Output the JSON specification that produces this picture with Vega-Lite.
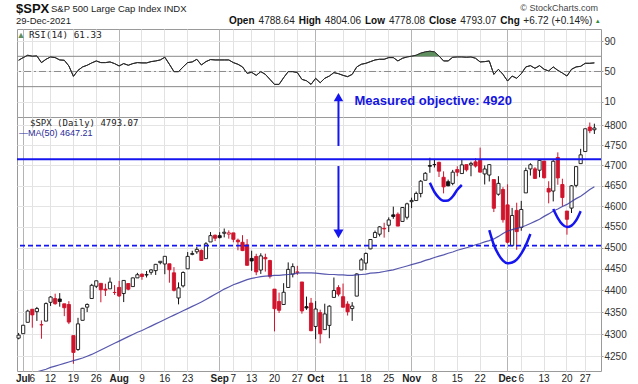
{
"$schema": "https://vega.github.io/schema/vega-lite/v6.json",
"padding": {"left": 14, "top": 2, "right": 5, "bottom": 5},
"background": "white",
"config": {"view": {"stroke": "#9a9a9a", "strokeWidth": 1}, "axis": {"labelFont": "Liberation Sans", "labelColor": "#333", "labelFontSize": 10}, "text": {"font": "Liberation Sans"}},
"datasets": {
"px": [
{"d":"2021-06-30","o":4290.65,"h":4302.43,"l":4287.96,"c":4297.50,"chg":5.70,"ma":4203,"rsi":64.8},
{"d":"2021-07-01","o":4300.73,"h":4320.66,"l":4300.73,"c":4319.94,"chg":22.44,"ma":4206,"rsi":68.3},
{"d":"2021-07-02","o":4326.60,"h":4355.43,"l":4326.60,"c":4352.34,"chg":32.40,"ma":4209,"rsi":71.4},
{"d":"2021-07-06","o":4356.46,"h":4356.46,"l":4314.37,"c":4343.54,"chg":-8.80,"ma":4212,"rsi":70.1},
{"d":"2021-07-07","o":4351.01,"h":4361.88,"l":4329.79,"c":4358.13,"chg":14.59,"ma":4215,"rsi":70.5},
{"d":"2021-07-08","o":4321.07,"h":4330.88,"l":4289.37,"c":4320.82,"chg":-37.31,"ma":4218,"rsi":61.7},
{"d":"2021-07-09","o":4329.38,"h":4372.21,"l":4329.38,"c":4369.55,"chg":48.73,"ma":4221,"rsi":66.1},
{"d":"2021-07-12","o":4372.41,"h":4386.68,"l":4364.03,"c":4384.63,"chg":15.08,"ma":4225,"rsi":69.2},
{"d":"2021-07-13","o":4381.07,"h":4392.37,"l":4366.92,"c":4369.21,"chg":-15.42,"ma":4228,"rsi":68.3},
{"d":"2021-07-14","o":4380.11,"h":4393.68,"l":4362.36,"c":4374.30,"chg":5.09,"ma":4231,"rsi":65.2},
{"d":"2021-07-15","o":4369.02,"h":4369.02,"l":4340.70,"c":4360.03,"chg":-14.27,"ma":4234,"rsi":64.8},
{"d":"2021-07-16","o":4367.43,"h":4375.09,"l":4322.53,"c":4327.16,"chg":-32.87,"ma":4237,"rsi":57.3},
{"d":"2021-07-19","o":4296.40,"h":4296.40,"l":4233.13,"c":4258.49,"chg":-68.67,"ma":4240,"rsi":43.6},
{"d":"2021-07-20","o":4265.11,"h":4336.84,"l":4262.05,"c":4323.06,"chg":64.57,"ma":4243,"rsi":51.5},
{"d":"2021-07-21","o":4331.13,"h":4359.70,"l":4331.13,"c":4358.69,"chg":35.63,"ma":4246,"rsi":56.0},
{"d":"2021-07-22","o":4361.27,"h":4369.87,"l":4350.06,"c":4367.48,"chg":8.79,"ma":4250,"rsi":58.2},
{"d":"2021-07-23","o":4381.20,"h":4415.18,"l":4381.20,"c":4411.79,"chg":44.31,"ma":4254,"rsi":61.3},
{"d":"2021-07-26","o":4409.58,"h":4422.73,"l":4405.45,"c":4422.30,"chg":10.51,"ma":4259,"rsi":63.9},
{"d":"2021-07-27","o":4416.38,"h":4416.38,"l":4372.51,"c":4401.46,"chg":-20.84,"ma":4264,"rsi":61.7},
{"d":"2021-07-28","o":4402.95,"h":4415.47,"l":4387.01,"c":4400.64,"chg":-0.82,"ma":4269,"rsi":61.7},
{"d":"2021-07-29","o":4403.59,"h":4429.97,"l":4403.59,"c":4419.15,"chg":18.51,"ma":4274,"rsi":62.6},
{"d":"2021-07-30","o":4395.12,"h":4412.25,"l":4389.65,"c":4395.26,"chg":-23.89,"ma":4279,"rsi":60.4},
{"d":"2021-08-02","o":4406.86,"h":4422.18,"l":4384.81,"c":4387.16,"chg":-8.10,"ma":4284,"rsi":57.3},
{"d":"2021-08-03","o":4392.74,"h":4423.79,"l":4373.00,"c":4423.15,"chg":35.99,"ma":4289,"rsi":60.4},
{"d":"2021-08-04","o":4415.95,"h":4416.17,"l":4400.23,"c":4402.66,"chg":-20.49,"ma":4294,"rsi":58.2},
{"d":"2021-08-05","o":4408.86,"h":4429.76,"l":4408.86,"c":4429.10,"chg":26.44,"ma":4299,"rsi":60.4},
{"d":"2021-08-06","o":4429.07,"h":4440.82,"l":4429.07,"c":4436.52,"chg":7.42,"ma":4304,"rsi":61.7},
{"d":"2021-08-09","o":4437.77,"h":4439.39,"l":4424.74,"c":4432.35,"chg":-4.17,"ma":4308,"rsi":61.3},
{"d":"2021-08-10","o":4435.79,"h":4445.21,"l":4430.03,"c":4436.75,"chg":4.40,"ma":4313,"rsi":61.3},
{"d":"2021-08-11","o":4442.18,"h":4449.44,"l":4436.42,"c":4447.70,"chg":10.95,"ma":4318,"rsi":63.0},
{"d":"2021-08-12","o":4446.08,"h":4461.77,"l":4435.96,"c":4460.83,"chg":13.13,"ma":4323,"rsi":63.9},
{"d":"2021-08-13","o":4464.84,"h":4468.37,"l":4460.82,"c":4468.00,"chg":7.17,"ma":4328,"rsi":65.2},
{"d":"2021-08-16","o":4461.65,"h":4480.26,"l":4437.66,"c":4479.71,"chg":11.71,"ma":4333,"rsi":68.8},
{"d":"2021-08-17","o":4462.12,"h":4462.12,"l":4417.83,"c":4448.08,"chg":-31.63,"ma":4338,"rsi":59.5},
{"d":"2021-08-18","o":4440.94,"h":4454.32,"l":4397.59,"c":4400.27,"chg":-47.81,"ma":4343,"rsi":49.8},
{"d":"2021-08-19","o":4382.44,"h":4418.61,"l":4367.73,"c":4405.80,"chg":5.53,"ma":4348,"rsi":49.8},
{"d":"2021-08-20","o":4410.56,"h":4444.35,"l":4406.80,"c":4441.67,"chg":35.87,"ma":4353,"rsi":56.0},
{"d":"2021-08-23","o":4450.29,"h":4489.88,"l":4450.29,"c":4479.53,"chg":37.86,"ma":4358,"rsi":61.7},
{"d":"2021-08-24","o":4484.40,"h":4492.81,"l":4482.28,"c":4486.23,"chg":6.70,"ma":4363,"rsi":62.6},
{"d":"2021-08-25","o":4490.45,"h":4501.71,"l":4485.66,"c":4496.19,"chg":9.96,"ma":4368,"rsi":66.1},
{"d":"2021-08-26","o":4493.75,"h":4495.90,"l":4468.99,"c":4470.00,"chg":-26.19,"ma":4373,"rsi":58.6},
{"d":"2021-08-27","o":4474.10,"h":4513.33,"l":4474.10,"c":4509.37,"chg":39.37,"ma":4379,"rsi":63.0},
{"d":"2021-08-30","o":4513.76,"h":4537.36,"l":4513.76,"c":4528.79,"chg":19.42,"ma":4385,"rsi":65.7},
{"d":"2021-08-31","o":4529.75,"h":4531.39,"l":4515.80,"c":4522.68,"chg":-6.11,"ma":4391,"rsi":65.2},
{"d":"2021-09-01","o":4528.80,"h":4537.11,"l":4522.02,"c":4524.09,"chg":1.41,"ma":4397,"rsi":65.2},
{"d":"2021-09-02","o":4534.48,"h":4545.85,"l":4524.66,"c":4536.95,"chg":12.86,"ma":4403,"rsi":65.2},
{"d":"2021-09-03","o":4532.42,"h":4541.45,"l":4521.65,"c":4535.43,"chg":-1.52,"ma":4408,"rsi":65.2},
{"d":"2021-09-07","o":4535.38,"h":4535.38,"l":4513.00,"c":4520.03,"chg":-15.40,"ma":4413,"rsi":61.7},
{"d":"2021-09-08","o":4518.09,"h":4521.79,"l":4493.95,"c":4514.07,"chg":-5.96,"ma":4417,"rsi":59.5},
{"d":"2021-09-09","o":4513.02,"h":4529.90,"l":4492.07,"c":4493.28,"chg":-20.79,"ma":4421,"rsi":56.0},
{"d":"2021-09-10","o":4506.92,"h":4520.47,"l":4457.66,"c":4458.58,"chg":-34.70,"ma":4425,"rsi":47.6},
{"d":"2021-09-13","o":4474.81,"h":4492.99,"l":4445.70,"c":4468.73,"chg":10.15,"ma":4428,"rsi":48.9},
{"d":"2021-09-14","o":4479.33,"h":4485.68,"l":4435.46,"c":4443.05,"chg":-25.68,"ma":4430,"rsi":44.9},
{"d":"2021-09-15","o":4447.49,"h":4486.87,"l":4438.37,"c":4480.70,"chg":37.65,"ma":4432,"rsi":49.8},
{"d":"2021-09-16","o":4477.09,"h":4485.87,"l":4443.80,"c":4473.75,"chg":-6.95,"ma":4433,"rsi":46.2},
{"d":"2021-09-17","o":4469.74,"h":4471.52,"l":4427.76,"c":4432.99,"chg":-40.76,"ma":4434,"rsi":39.6},
{"d":"2021-09-20","o":4402.95,"h":4402.95,"l":4305.91,"c":4357.73,"chg":-75.26,"ma":4435,"rsi":33.0},
{"d":"2021-09-21","o":4374.45,"h":4394.87,"l":4347.96,"c":4354.19,"chg":-3.54,"ma":4435,"rsi":33.0},
{"d":"2021-09-22","o":4367.43,"h":4416.75,"l":4367.43,"c":4395.64,"chg":41.45,"ma":4436,"rsi":41.8},
{"d":"2021-09-23","o":4406.75,"h":4465.40,"l":4406.75,"c":4448.98,"chg":53.34,"ma":4437,"rsi":49.8},
{"d":"2021-09-24","o":4438.04,"h":4463.12,"l":4430.27,"c":4455.48,"chg":6.50,"ma":4438,"rsi":49.8},
{"d":"2021-09-27","o":4442.12,"h":4457.30,"l":4436.19,"c":4443.11,"chg":-12.37,"ma":4440,"rsi":48.5},
{"d":"2021-09-28","o":4419.54,"h":4419.54,"l":4346.33,"c":4352.63,"chg":-90.48,"ma":4441,"rsi":39.6},
{"d":"2021-09-29","o":4362.41,"h":4385.57,"l":4355.08,"c":4359.46,"chg":6.83,"ma":4441,"rsi":37.8},
{"d":"2021-09-30","o":4370.67,"h":4382.55,"l":4306.24,"c":4307.54,"chg":-51.92,"ma":4441,"rsi":33.0},
{"d":"2021-10-01","o":4317.16,"h":4375.19,"l":4288.52,"c":4357.04,"chg":49.50,"ma":4440,"rsi":41.0},
{"d":"2021-10-04","o":4348.84,"h":4355.51,"l":4278.94,"c":4300.46,"chg":-56.58,"ma":4439,"rsi":35.2},
{"d":"2021-10-05","o":4309.87,"h":4369.23,"l":4309.87,"c":4345.72,"chg":45.26,"ma":4438,"rsi":41.0},
{"d":"2021-10-06","o":4319.57,"h":4365.57,"l":4290.49,"c":4363.55,"chg":17.83,"ma":4437,"rsi":44.0},
{"d":"2021-10-07","o":4383.73,"h":4429.97,"l":4383.73,"c":4399.76,"chg":36.21,"ma":4437,"rsi":48.5},
{"d":"2021-10-08","o":4406.51,"h":4412.02,"l":4386.22,"c":4391.34,"chg":-8.42,"ma":4436,"rsi":47.1},
{"d":"2021-10-11","o":4385.44,"h":4415.88,"l":4360.59,"c":4361.19,"chg":-30.15,"ma":4436,"rsi":44.9},
{"d":"2021-10-12","o":4368.31,"h":4374.89,"l":4342.09,"c":4350.65,"chg":-10.54,"ma":4435,"rsi":43.2},
{"d":"2021-10-13","o":4358.01,"h":4372.87,"l":4329.92,"c":4363.80,"chg":13.15,"ma":4435,"rsi":46.2},
{"d":"2021-10-14","o":4386.75,"h":4439.73,"l":4386.75,"c":4438.26,"chg":74.46,"ma":4436,"rsi":56.0},
{"d":"2021-10-15","o":4447.69,"h":4475.82,"l":4447.69,"c":4471.37,"chg":33.11,"ma":4437,"rsi":59.5},
{"d":"2021-10-18","o":4463.72,"h":4488.75,"l":4447.47,"c":4486.46,"chg":15.09,"ma":4438,"rsi":60.8},
{"d":"2021-10-19","o":4497.34,"h":4520.40,"l":4496.41,"c":4519.63,"chg":33.17,"ma":4440,"rsi":63.0},
{"d":"2021-10-20","o":4524.42,"h":4540.87,"l":4524.40,"c":4536.19,"chg":16.56,"ma":4441,"rsi":65.2},
{"d":"2021-10-21","o":4532.24,"h":4551.44,"l":4526.89,"c":4549.78,"chg":13.59,"ma":4442,"rsi":66.1},
{"d":"2021-10-22","o":4546.12,"h":4559.67,"l":4524.00,"c":4544.90,"chg":-4.88,"ma":4444,"rsi":66.1},
{"d":"2021-10-25","o":4553.69,"h":4572.62,"l":4537.36,"c":4566.48,"chg":21.58,"ma":4446,"rsi":68.3},
{"d":"2021-10-26","o":4578.69,"h":4598.53,"l":4569.17,"c":4574.79,"chg":8.31,"ma":4448,"rsi":68.3},
{"d":"2021-10-27","o":4580.22,"h":4584.57,"l":4551.66,"c":4551.68,"chg":-23.11,"ma":4451,"rsi":63.9},
{"d":"2021-10-28","o":4562.84,"h":4597.55,"l":4562.84,"c":4596.42,"chg":44.74,"ma":4454,"rsi":67.4},
{"d":"2021-10-29","o":4572.87,"h":4608.08,"l":4567.59,"c":4605.38,"chg":8.96,"ma":4457,"rsi":69.2},
{"d":"2021-11-01","o":4610.62,"h":4620.34,"l":4595.06,"c":4613.67,"chg":8.29,"ma":4460,"rsi":70.1},
{"d":"2021-11-02","o":4613.34,"h":4635.15,"l":4613.34,"c":4630.65,"chg":16.98,"ma":4463,"rsi":71.4},
{"d":"2021-11-03","o":4630.65,"h":4663.46,"l":4621.19,"c":4660.57,"chg":29.92,"ma":4466,"rsi":74.1},
{"d":"2021-11-04","o":4662.93,"h":4683.00,"l":4662.59,"c":4680.06,"chg":19.49,"ma":4470,"rsi":75.8},
{"d":"2021-11-05","o":4699.26,"h":4718.50,"l":4681.32,"c":4697.53,"chg":17.47,"ma":4473,"rsi":76.7},
{"d":"2021-11-08","o":4701.48,"h":4714.92,"l":4694.39,"c":4701.70,"chg":4.17,"ma":4477,"rsi":75.8},
{"d":"2021-11-09","o":4707.25,"h":4708.53,"l":4670.87,"c":4685.25,"chg":-16.45,"ma":4480,"rsi":70.5},
{"d":"2021-11-10","o":4670.26,"h":4684.85,"l":4630.86,"c":4646.71,"chg":-38.54,"ma":4483,"rsi":63.9},
{"d":"2021-11-11","o":4659.39,"h":4664.55,"l":4648.31,"c":4649.27,"chg":2.56,"ma":4487,"rsi":63.9},
{"d":"2021-11-12","o":4655.24,"h":4688.47,"l":4650.77,"c":4682.85,"chg":33.58,"ma":4490,"rsi":68.8},
{"d":"2021-11-15","o":4689.30,"h":4697.42,"l":4672.86,"c":4682.80,"chg":-0.05,"ma":4494,"rsi":69.2},
{"d":"2021-11-16","o":4679.42,"h":4714.95,"l":4679.42,"c":4700.90,"chg":18.10,"ma":4497,"rsi":69.2},
{"d":"2021-11-17","o":4701.50,"h":4701.50,"l":4684.41,"c":4688.67,"chg":-12.23,"ma":4500,"rsi":68.8},
{"d":"2021-11-18","o":4700.72,"h":4708.80,"l":4672.78,"c":4704.54,"chg":15.87,"ma":4503,"rsi":69.2},
{"d":"2021-11-19","o":4708.44,"h":4717.75,"l":4694.22,"c":4697.96,"chg":-6.58,"ma":4507,"rsi":67.4},
{"d":"2021-11-22","o":4712.00,"h":4743.83,"l":4682.17,"c":4682.94,"chg":-15.02,"ma":4510,"rsi":62.6},
{"d":"2021-11-23","o":4678.48,"h":4699.39,"l":4652.66,"c":4690.70,"chg":7.76,"ma":4514,"rsi":63.0},
{"d":"2021-11-24","o":4675.78,"h":4702.87,"l":4659.89,"c":4701.46,"chg":10.76,"ma":4517,"rsi":63.9},
{"d":"2021-11-26","o":4664.63,"h":4664.63,"l":4585.43,"c":4594.62,"chg":-106.84,"ma":4521,"rsi":46.2},
{"d":"2021-11-29","o":4628.75,"h":4672.95,"l":4625.26,"c":4655.27,"chg":60.65,"ma":4527,"rsi":52.9},
{"d":"2021-11-30","o":4640.25,"h":4646.02,"l":4560.00,"c":4567.00,"chg":-88.27,"ma":4534,"rsi":46.2},
{"d":"2021-12-01","o":4602.82,"h":4652.94,"l":4510.27,"c":4513.04,"chg":-53.96,"ma":4540,"rsi":37.4},
{"d":"2021-12-02","o":4504.73,"h":4595.46,"l":4504.73,"c":4577.10,"chg":64.06,"ma":4543,"rsi":44.0},
{"d":"2021-12-03","o":4589.49,"h":4608.03,"l":4495.12,"c":4538.43,"chg":-38.67,"ma":4546,"rsi":41.0},
{"d":"2021-12-06","o":4548.37,"h":4612.60,"l":4540.51,"c":4591.67,"chg":53.24,"ma":4549,"rsi":47.1},
{"d":"2021-12-07","o":4631.97,"h":4694.04,"l":4631.97,"c":4686.75,"chg":95.08,"ma":4553,"rsi":56.0},
{"d":"2021-12-08","o":4690.86,"h":4705.06,"l":4674.52,"c":4701.21,"chg":14.46,"ma":4558,"rsi":57.7},
{"d":"2021-12-09","o":4691.00,"h":4695.26,"l":4665.98,"c":4667.45,"chg":-33.76,"ma":4563,"rsi":54.2},
{"d":"2021-12-10","o":4687.64,"h":4713.57,"l":4670.24,"c":4712.02,"chg":44.57,"ma":4568,"rsi":57.7},
{"d":"2021-12-13","o":4710.30,"h":4710.30,"l":4667.60,"c":4668.97,"chg":-43.05,"ma":4575,"rsi":52.9},
{"d":"2021-12-14","o":4642.99,"h":4660.47,"l":4606.52,"c":4634.09,"chg":-34.88,"ma":4581,"rsi":50.7},
{"d":"2021-12-15","o":4636.46,"h":4712.60,"l":4611.22,"c":4709.85,"chg":75.76,"ma":4588,"rsi":56.0},
{"d":"2021-12-16","o":4719.13,"h":4731.99,"l":4651.89,"c":4668.67,"chg":-41.18,"ma":4593,"rsi":51.5},
{"d":"2021-12-17","o":4652.50,"h":4666.70,"l":4600.22,"c":4620.64,"chg":-48.03,"ma":4599,"rsi":48.0},
{"d":"2021-12-20","o":4587.90,"h":4587.90,"l":4531.10,"c":4568.02,"chg":-52.62,"ma":4604,"rsi":44.0},
{"d":"2021-12-21","o":4594.96,"h":4651.14,"l":4583.16,"c":4649.23,"chg":81.21,"ma":4611,"rsi":52.9},
{"d":"2021-12-22","o":4650.36,"h":4697.67,"l":4645.53,"c":4696.56,"chg":47.33,"ma":4618,"rsi":56.0},
{"d":"2021-12-23","o":4703.96,"h":4740.74,"l":4703.96,"c":4725.79,"chg":29.23,"ma":4624,"rsi":56.8},
{"d":"2021-12-27","o":4733.99,"h":4791.49,"l":4733.99,"c":4791.19,"chg":65.40,"ma":4632,"rsi":60.8},
{"d":"2021-12-28","o":4795.49,"h":4807.02,"l":4780.04,"c":4786.35,"chg":-4.84,"ma":4640,"rsi":60.8},
{"d":"2021-12-29","o":4788.64,"h":4804.06,"l":4778.08,"c":4793.07,"chg":6.72,"ma":4647.21,"rsi":61.33}
],
"arcs": [
{"g":1,"d":"2021-11-05","p":4656.7},{"g":1,"d":"2021-11-08","p":4634.2},{"g":1,"d":"2021-11-09","p":4619.8},{"g":1,"d":"2021-11-10","p":4612.7},{"g":1,"d":"2021-11-11","p":4613.7},{"g":1,"d":"2021-11-12","p":4623.2},{"g":1,"d":"2021-11-15","p":4639.6},{"g":1,"d":"2021-11-16","p":4651.3},
{"g":2,"d":"2021-11-24","p":4542.2},{"g":2,"d":"2021-11-26","p":4507.1},{"g":2,"d":"2021-11-29","p":4484.1},{"g":2,"d":"2021-11-30","p":4469.7},{"g":2,"d":"2021-12-01","p":4463.3},{"g":2,"d":"2021-12-02","p":4465.2},{"g":2,"d":"2021-12-03","p":4472.1},{"g":2,"d":"2021-12-06","p":4486.0},{"g":2,"d":"2021-12-07","p":4506.2},{"g":2,"d":"2021-12-08","p":4532.7},
{"g":3,"d":"2021-12-15","p":4592.8},{"g":3,"d":"2021-12-16","p":4571.0},{"g":3,"d":"2021-12-17","p":4555.6},{"g":3,"d":"2021-12-20","p":4549.4},{"g":3,"d":"2021-12-21","p":4552.8},{"g":3,"d":"2021-12-22","p":4565.3},{"g":3,"d":"2021-12-23","p":4587.7}
]
},
"spacing": 0,
"bounds": "flush",
"resolve": {"scale": {"x": "shared", "y": "independent"}, "axis": {"x": "independent", "y": "independent"}},
"vconcat": [
{
"width": 584, "height": 88,
"data": {"name": "px"},
"layer": [
{"mark": {"type": "line", "color": "#2a2a2a", "strokeWidth": 1},
 "encoding": {
  "x": {"field": "d", "type": "ordinal", "scale": {"type": "band", "paddingInner": 0.3, "paddingOuter": 0.55, "align": 0, "round": false},
   "axis": {"values": ["2021-07-01","2021-07-06","2021-07-12","2021-07-19","2021-07-26","2021-08-02","2021-08-09","2021-08-16","2021-08-23","2021-09-01","2021-09-07","2021-09-13","2021-09-20","2021-09-27","2021-10-01","2021-10-11","2021-10-18","2021-10-25","2021-11-01","2021-11-08","2021-11-15","2021-11-22","2021-12-01","2021-12-06","2021-12-13","2021-12-20","2021-12-27"],
    "labels": false, "ticks": false, "domain": false, "title": null, "grid": true, "bandPosition": 0.5,
    "gridColor": {"condition": {"test": "datum.value == '2021-07-01' || datum.value == '2021-08-02' || datum.value == '2021-09-01' || datum.value == '2021-10-01' || datum.value == '2021-11-01' || datum.value == '2021-12-01'", "value": "#b4b4b4"}, "value": "#e2e2e2"}}},
  "y": {"field": "rsi", "type": "quantitative", "scale": {"domain": [-10, 106], "nice": false, "zero": false},
   "axis": {"orient": "right", "values": [10, 30, 50, 70, 90], "grid": true, "gridColor": "#e4e4e4", "tickSize": 2, "tickColor": "#999", "labelPadding": 1, "domain": false, "title": null}}
 }},
{"data": {"values": [{"v": 70}, {"v": 30}]}, "mark": {"type": "rule", "color": "#8a8a8a", "strokeWidth": 1}, "encoding": {"y": {"field": "v", "type": "quantitative"}}},
{"data": {"values": [{"v": 50}]}, "mark": {"type": "rule", "color": "#8a8a8a", "strokeWidth": 1, "strokeDash": [7, 3, 2, 3]}, "encoding": {"y": {"field": "v", "type": "quantitative"}}},
{"transform": [{"filter": "datum.rsi >= 70 && datum.d >= '2021-11'"}], "mark": {"type": "area", "color": "#5f8f5f", "opacity": 1},
 "encoding": {"x": {"field": "d", "type": "ordinal"}, "y": {"field": "rsi", "type": "quantitative"}, "y2": {"datum": 70}}},
{"mark": {"type": "line", "color": "#2a2a2a", "strokeWidth": 1},
 "encoding": {"x": {"field": "d", "type": "ordinal"}, "y": {"field": "rsi", "type": "quantitative"}}},
{"data": {"values": [{}]}, "mark": {"type": "text", "text": "$SPX", "align": "left", "baseline": "alphabetic", "fontSize": 13, "fontWeight": "bold", "color": "#111", "dx": -2.6},
 "encoding": {"x": {"datum": "2021-06-30", "type": "ordinal"}, "y": {"datum": 127.1}}},
{"data": {"values": [{}]}, "mark": {"type": "text", "text": "S&P 500 Large Cap Index  INDX", "align": "left", "baseline": "alphabetic", "fontSize": 9.5, "color": "#222", "dx": 32.4},
 "encoding": {"x": {"datum": "2021-06-30", "type": "ordinal"}, "y": {"datum": 128.4}}},
{"data": {"values": [{}]}, "mark": {"type": "text", "text": "© StockCharts.com", "align": "right", "baseline": "alphabetic", "fontSize": 9, "color": "#444", "dx": 3.6},
 "encoding": {"x": {"datum": "2021-12-29", "type": "ordinal"}, "y": {"datum": 129.7}}},
{"data": {"values": [{}]}, "mark": {"type": "text", "text": "29-Dec-2021", "align": "left", "baseline": "middle", "fontSize": 9.5, "color": "#222", "dx": -2.6},
 "encoding": {"x": {"datum": "2021-06-30", "type": "ordinal"}, "y": {"datum": 115.9}}},
{"data": {"values": [{}]}, "mark": {"type": "text", "text": "Open", "align": "left", "baseline": "middle", "fontSize": 10, "fontWeight": "bold", "color": "#111", "dx": -365.4},
 "encoding": {"x": {"datum": "2021-12-29", "type": "ordinal"}, "y": {"datum": 115.9}}},
{"data": {"values": [{}]}, "mark": {"type": "text", "text": "4788.64", "align": "left", "baseline": "middle", "fontSize": 10, "color": "#222", "dx": -335.8},
 "encoding": {"x": {"datum": "2021-12-29", "type": "ordinal"}, "y": {"datum": 115.9}}},
{"data": {"values": [{}]}, "mark": {"type": "text", "text": "High", "align": "left", "baseline": "middle", "fontSize": 10, "fontWeight": "bold", "color": "#111", "dx": -295.7},
 "encoding": {"x": {"datum": "2021-12-29", "type": "ordinal"}, "y": {"datum": 115.9}}},
{"data": {"values": [{}]}, "mark": {"type": "text", "text": "4804.06", "align": "left", "baseline": "middle", "fontSize": 10, "color": "#222", "dx": -269.5},
 "encoding": {"x": {"datum": "2021-12-29", "type": "ordinal"}, "y": {"datum": 115.9}}},
{"data": {"values": [{}]}, "mark": {"type": "text", "text": "Low", "align": "left", "baseline": "middle", "fontSize": 10, "fontWeight": "bold", "color": "#111", "dx": -229.4},
 "encoding": {"x": {"datum": "2021-12-29", "type": "ordinal"}, "y": {"datum": 115.9}}},
{"data": {"values": [{}]}, "mark": {"type": "text", "text": "4778.08", "align": "left", "baseline": "middle", "fontSize": 10, "color": "#222", "dx": -205.4},
 "encoding": {"x": {"datum": "2021-12-29", "type": "ordinal"}, "y": {"datum": 115.9}}},
{"data": {"values": [{}]}, "mark": {"type": "text", "text": "Close", "align": "left", "baseline": "middle", "fontSize": 10, "fontWeight": "bold", "color": "#111", "dx": -165.3},
 "encoding": {"x": {"datum": "2021-12-29", "type": "ordinal"}, "y": {"datum": 115.9}}},
{"data": {"values": [{}]}, "mark": {"type": "text", "text": "4793.07", "align": "left", "baseline": "middle", "fontSize": 10, "color": "#222", "dx": -134.1},
 "encoding": {"x": {"datum": "2021-12-29", "type": "ordinal"}, "y": {"datum": 115.9}}},
{"data": {"values": [{}]}, "mark": {"type": "text", "text": "Chg", "align": "left", "baseline": "middle", "fontSize": 10, "fontWeight": "bold", "color": "#111", "dx": -94},
 "encoding": {"x": {"datum": "2021-12-29", "type": "ordinal"}, "y": {"datum": 115.9}}},
{"data": {"values": [{}]}, "mark": {"type": "text", "text": "+6.72 (+0.14%)", "align": "left", "baseline": "middle", "fontSize": 10, "color": "#222", "dx": -71},
 "encoding": {"x": {"datum": "2021-12-29", "type": "ordinal"}, "y": {"datum": 115.9}}},
{"data": {"values": [{}]}, "mark": {"type": "text", "text": "▲", "align": "left", "baseline": "middle", "fontSize": 6, "color": "#2e8b3e", "dx": 0.5},
 "encoding": {"x": {"datum": "2021-12-29", "type": "ordinal"}, "y": {"datum": 115.9}}},
{"data": {"values": [{}]}, "mark": {"type": "text", "text": "▲", "align": "center", "baseline": "middle", "fontSize": 9, "color": "#5f8f5f", "dx": 2.4},
 "encoding": {"x": {"datum": "2021-06-30", "type": "ordinal"}, "y": {"datum": 98.1}}},
{"data": {"values": [{}]}, "mark": {"type": "text", "text": "RSI(14) 61.33", "align": "left", "baseline": "middle", "font": "DejaVu Sans Mono", "fontSize": 9.3, "color": "#222", "dx": 10.4},
 "encoding": {"x": {"datum": "2021-06-30", "type": "ordinal"}, "y": {"datum": 98.1}}}
]
},
{
"width": 584, "height": 254,
"data": {"name": "px"},
"layer": [
{"mark": {"type": "rule", "strokeWidth": 1},
 "encoding": {
  "x": {"field": "d", "type": "ordinal",
   "axis": {"values": ["2021-07-01","2021-07-06","2021-07-12","2021-07-19","2021-07-26","2021-08-02","2021-08-09","2021-08-16","2021-08-23","2021-09-01","2021-09-07","2021-09-13","2021-09-20","2021-09-27","2021-10-01","2021-10-11","2021-10-18","2021-10-25","2021-11-01","2021-11-08","2021-11-15","2021-11-22","2021-12-01","2021-12-06","2021-12-13","2021-12-20","2021-12-27"],
    "labelExpr": "datum.value == '2021-07-01' ? 'Jul' : datum.value == '2021-07-06' ? '6' : datum.value == '2021-07-12' ? '12' : datum.value == '2021-07-19' ? '19' : datum.value == '2021-07-26' ? '26' : datum.value == '2021-08-02' ? 'Aug' : datum.value == '2021-08-09' ? '9' : datum.value == '2021-08-16' ? '16' : datum.value == '2021-08-23' ? '23' : datum.value == '2021-09-01' ? 'Sep' : datum.value == '2021-09-07' ? '7' : datum.value == '2021-09-13' ? '13' : datum.value == '2021-09-20' ? '20' : datum.value == '2021-09-27' ? '27' : datum.value == '2021-10-01' ? 'Oct' : datum.value == '2021-10-11' ? '11' : datum.value == '2021-10-18' ? '18' : datum.value == '2021-10-25' ? '25' : datum.value == '2021-11-01' ? 'Nov' : datum.value == '2021-11-08' ? '8' : datum.value == '2021-11-15' ? '15' : datum.value == '2021-11-22' ? '22' : datum.value == '2021-12-01' ? 'Dec' : datum.value == '2021-12-06' ? '6' : datum.value == '2021-12-13' ? '13' : datum.value == '2021-12-20' ? '20' : '27'",
    "labelFontWeight": {"condition": {"test": "datum.value == '2021-07-01' || datum.value == '2021-08-02' || datum.value == '2021-09-01' || datum.value == '2021-10-01' || datum.value == '2021-11-01' || datum.value == '2021-12-01'", "value": "bold"}, "value": "normal"},
    "labelAngle": 0, "labelOverlap": false, "labelColor": "#222", "labelPadding": 2, "ticks": false, "domain": false, "title": null, "grid": true, "bandPosition": 0.5,
    "gridColor": {"condition": {"test": "datum.value == '2021-07-01' || datum.value == '2021-08-02' || datum.value == '2021-09-01' || datum.value == '2021-10-01' || datum.value == '2021-11-01' || datum.value == '2021-12-01'", "value": "#b4b4b4"}, "value": "#e2e2e2"}}},
  "y": {"field": "l", "type": "quantitative", "scale": {"type": "log", "domain": [4217, 4821], "nice": false, "zero": false},
   "axis": {"orient": "right", "values": [4250, 4300, 4350, 4400, 4450, 4500, 4550, 4600, 4650, 4700, 4750, 4800], "format": "d", "grid": true, "gridColor": "#e4e4e4", "tickSize": 2, "tickColor": "#999", "labelPadding": 1, "domain": false, "title": null}},
  "y2": {"field": "h"},
  "color": {"condition": {"test": "datum.chg < 0", "value": "#d0142c"}, "value": "#111"}
 }},
{"mark": {"type": "bar", "strokeWidth": 0.9},
 "encoding": {
  "x": {"field": "d", "type": "ordinal"},
  "y": {"field": "o", "type": "quantitative"},
  "y2": {"field": "c"},
  "fill": {"condition": [{"test": "datum.c > datum.o", "value": "white"}, {"test": "datum.chg < 0", "value": "#d0142c"}], "value": "#111"},
  "stroke": {"condition": {"test": "datum.chg < 0", "value": "#d0142c"}, "value": "#111"}
 }},
{"mark": {"type": "line", "color": "#3a3aa0", "strokeWidth": 1.2, "opacity": 0.85, "clip": true},
 "encoding": {"x": {"field": "d", "type": "ordinal"}, "y": {"field": "ma", "type": "quantitative"}}},
{"data": {"values": [{}]}, "mark": {"type": "rule", "color": "#1515f0", "strokeWidth": 2}, "encoding": {"y": {"datum": 4715}}},
{"data": {"values": [{}]}, "mark": {"type": "rule", "color": "#1515f0", "strokeWidth": 1.8, "strokeDash": [5, 3]}, "encoding": {"y": {"datum": 4505}}},
{"data": {"name": "arcs"}, "mark": {"type": "line", "color": "#1515f0", "strokeWidth": 2.5, "interpolate": "monotone"},
 "encoding": {"x": {"field": "d", "type": "ordinal"}, "y": {"field": "p", "type": "quantitative"}, "detail": {"field": "g"}}},
{"data": {"values": [{}]}, "mark": {"type": "rule", "color": "#1515f0", "strokeWidth": 2},
 "encoding": {"x": {"datum": "2021-10-08", "type": "ordinal"}, "y": {"datum": 4748}, "y2": {"datum": 4864}}},
{"data": {"values": [{}]}, "mark": {"type": "rule", "color": "#1515f0", "strokeWidth": 2},
 "encoding": {"x": {"datum": "2021-10-08", "type": "ordinal"}, "y": {"datum": 4540}, "y2": {"datum": 4698}}},
{"data": {"values": [{}]}, "mark": {"type": "point", "shape": "triangle-up", "filled": true, "size": 90, "color": "#1515f0", "opacity": 1},
 "encoding": {"x": {"datum": "2021-10-08", "type": "ordinal"}, "y": {"datum": 4872}}},
{"data": {"values": [{}]}, "mark": {"type": "point", "shape": "triangle-down", "filled": true, "size": 100, "color": "#1515f0", "opacity": 1},
 "encoding": {"x": {"datum": "2021-10-08", "type": "ordinal"}, "y": {"datum": 4533}}},
{"data": {"values": [{}]}, "mark": {"type": "text", "text": "Measured objective: 4920", "align": "left", "baseline": "middle", "fontSize": 13, "fontWeight": "bold", "color": "#1515e0", "dx": 16},
 "encoding": {"x": {"datum": "2021-10-08", "type": "ordinal"}, "y": {"datum": 4862}}},
{"data": {"values": [{}]}, "mark": {"type": "text", "text": "$SPX (Daily) 4793.07", "align": "left", "baseline": "middle", "font": "DejaVu Sans Mono", "fontSize": 9, "color": "#222", "dx": 11.4},
 "encoding": {"x": {"datum": "2021-06-30", "type": "ordinal"}, "y": {"datum": 4806.7}}},
{"data": {"values": [{}]}, "mark": {"type": "text", "text": "—MA(50) 4647.21", "align": "left", "baseline": "middle", "fontSize": 9, "color": "#2b2b9a", "dx": 0.4},
 "encoding": {"x": {"datum": "2021-06-30", "type": "ordinal"}, "y": {"datum": 4779.9}}}
]
}
]
}
